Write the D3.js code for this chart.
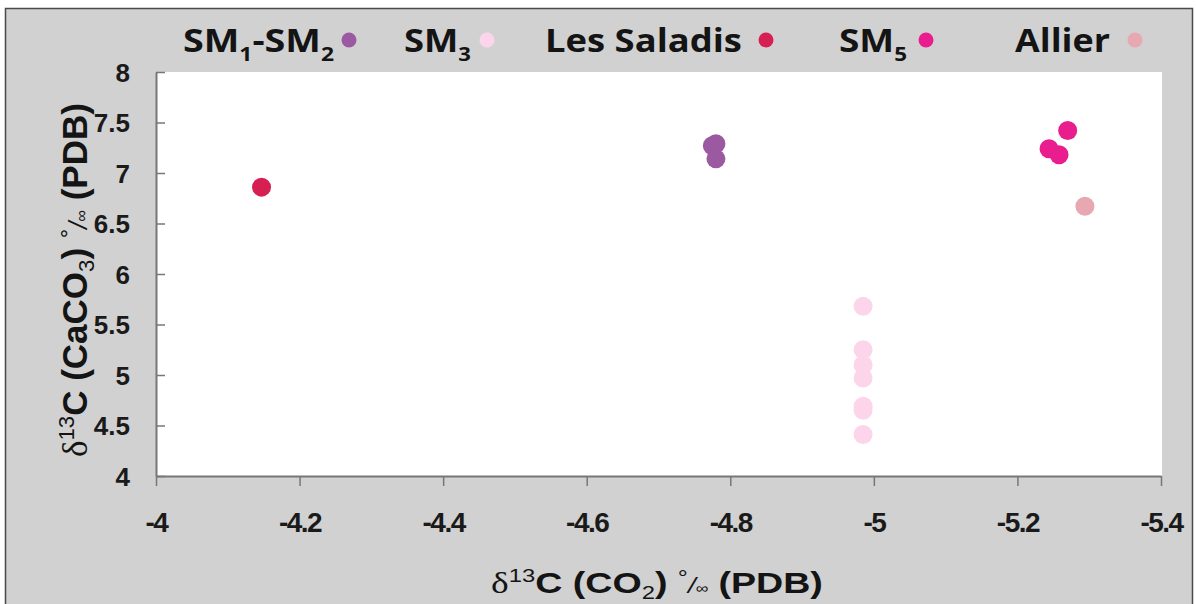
<!DOCTYPE html>
<html><head><meta charset="utf-8">
<script src="https://cdn.jsdelivr.net/npm/d3@7"></script>
<style>html,body{margin:0;padding:0;background:#fff;overflow:hidden}svg{display:block}</style>
</head><body>
<script>
// ---- data ----
const seriesNames = ["SM1-SM2", "SM3", "Les Saladis", "SM5", "Allier"];
const seriesColors = ["#9b59a1", "#fdd5ea", "#d61f53", "#ea1d8f", "#e8a8b2"];
const sm12X = [-4.78, -4.775, -4.78];
const sm12Y = [7.29, 7.27, 7.14];
const sm3X = [-4.985, -4.985, -4.985, -4.985, -4.985, -4.985, -4.985];
const sm3Y = [5.68, 5.25, 5.10, 4.97, 4.69, 4.65, 4.41];
const salX = [-4.147];
const salY = [6.86];
const sm5X = [-5.27, -5.244, -5.258];
const sm5Y = [7.42, 7.24, 7.18];
const allierX = [-5.294];
const allierY = [6.67];
const xTicks = [-4, -4.2, -4.4, -4.6, -4.8, -5, -5.2, -5.4];
const yTicks = [4, 4.5, 5, 5.5, 6, 6.5, 7, 7.5, 8];
// legend labels split into [text, role] parts (role: "" normal, "sub" subscript)
const legendParts = [
  [["SM", ""], ["1", "sub"], ["-SM", ""], ["2", "sub"]],
  [["SM", ""], ["3", "sub"]],
  [["Les Saladis", ""]],
  [["SM", ""], ["5", "sub"]],
  [["Allier", ""]]
];

const series = [
  {xs: sm12X, ys: sm12Y},
  {xs: sm3X, ys: sm3Y},
  {xs: salX, ys: salY},
  {xs: sm5X, ys: sm5Y},
  {xs: allierX, ys: allierY}
];

// ---- layout ----
const W = 1196, H = 604;
const plot = {l: 156, r: 1161, t: 72, b: 476};
const legendLayout = [
  {x0: 183, x1: 334, dot: 349},
  {x0: 404, x1: 471, dot: 487},
  {x0: 545, x1: 742, dot: 766},
  {x0: 839, x1: 907, dot: 926},
  {x0: 1015, x1: 1110, dot: 1135}
];

const svg = d3.select("body").append("svg").attr("width", W).attr("height", H);

svg.append("rect").attr("x", 0).attr("y", 0).attr("width", W).attr("height", H).attr("fill", "#fff");
svg.append("rect").attr("x", 5.5).attr("y", 8.5).attr("width", 1187).attr("height", 610)
  .attr("fill", "#d1d1d1").attr("stroke", "#4a4a4a").attr("stroke-width", 1.5);
svg.append("rect").attr("x", plot.l).attr("y", plot.t).attr("width", plot.r - plot.l + 1).attr("height", plot.b - plot.t)
  .attr("fill", "#fff");

const x = d3.scaleLinear().domain([-4, -5.4]).range([plot.l, plot.r]);
const y = d3.scaleLinear().domain([4, 8]).range([plot.b, plot.t]);

const AX = "#777";
const fmt = d => String(d);
// x axis
const gx = svg.append("g").attr("transform", `translate(0,${plot.b})`)
  .call(d3.axisBottom(x).tickValues(xTicks).tickSize(10).tickSizeOuter(0).tickFormat(fmt));
gx.select(".domain").attr("stroke", AX).attr("stroke-width", 2);
gx.selectAll(".tick line").attr("stroke", AX).attr("stroke-width", 1.5);
gx.selectAll(".tick text").attr("font-family", "'Liberation Sans', Arial, sans-serif")
  .attr("font-weight", "bold").attr("font-size", 28).attr("fill", "#1a1a1a")
  .attr("y", 56).attr("dy", 0).style("letter-spacing", "-1.5px");

// y axis (ticks inward)
const gy = svg.append("g").attr("transform", `translate(${plot.l},0)`)
  .call(d3.axisLeft(y).tickValues(yTicks).tickSize(-9).tickSizeOuter(0).tickPadding(26).tickFormat(fmt));
gy.select(".domain").attr("stroke", AX).attr("stroke-width", 2);
gy.selectAll(".tick line").attr("stroke", AX).attr("stroke-width", 1.5);
gy.selectAll(".tick text").attr("font-family", "'Liberation Sans', Arial, sans-serif")
  .attr("font-weight", "bold").attr("font-size", 26).attr("fill", "#1a1a1a").attr("dy", "0.36em");

// points
series.forEach((s, i) => {
  svg.append("g").selectAll("circle").data(s.xs.map((v, j) => [v, s.ys[j]])).join("circle")
    .attr("cx", d => x(d[0])).attr("cy", d => y(d[1])).attr("r", 9.5)
    .attr("fill", seriesColors[i]);
});

// legend
function fitX(t, x0, x1) {
  const bb = t.node().getBBox();
  const sx = (x1 - x0) / bb.width;
  t.attr("transform", `translate(${x0},0) scale(${sx},1) translate(${-bb.x},0)`);
}
legendParts.forEach((parts, i) => {
  const L = legendLayout[i];
  const t = svg.append("text").attr("x", 0).attr("y", 52)
    .attr("font-family", "'Open Sans', sans-serif").attr("font-weight", 700).attr("font-size", 33)
    .attr("fill", "#141414");
  let shifted = 0;
  parts.forEach(([txt, role]) => {
    const ts = t.append("tspan").text(txt);
    if (role === "sub") { ts.attr("font-size", 20).attr("dy", 9 - shifted); shifted = 9; }
    else { ts.attr("dy", -shifted); shifted = 0; }
  });
  fitX(t, L.x0, L.x1);
  svg.append("circle").attr("cx", L.dot).attr("cy", 40).attr("r", 7.5).attr("fill", seriesColors[i]);
});

// axis titles
function buildTitle(t, mid, fs) {
  const bold = "'Liberation Sans', Arial, sans-serif";
  const k = fs / 30;
  const add = (txt, o) => {
    const s = t.append("tspan").text(txt).attr("font-family", o.ff || bold)
      .attr("font-weight", o.w || "bold").attr("font-size", o.fs * k);
    if (o.dy) s.attr("dy", o.dy * k);
    if (o.it) s.attr("font-style", "italic");
    return s;
  };
  add("δ", {ff: "'Liberation Serif', 'DejaVu Serif', serif", w: "normal", fs: 30});
  add("13", {w: "normal", fs: 19, dy: -11});
  add("C (", {fs: 30, dy: 11});
  add(mid[0], {fs: 30});
  add(mid[1], {w: "normal", fs: 19, dy: 6});
  add(") ", {fs: 30, dy: -6});
  add("°", {w: "normal", fs: 20, dy: -8});
  add("/", {w: "normal", fs: 22, dy: 8, it: true});
  add("∞", {w: "normal", fs: 14});
  add(" (PDB)", {fs: 30});
}
// x title
const xt = svg.append("text").attr("x", 0).attr("y", 593).attr("fill", "#141414");
buildTitle(xt, ["CO", "2"], 30);
fitX(xt, 491, 823);

// y title (rotated)
const yg = svg.append("g").attr("transform", "translate(87,457) rotate(-90)");
const yt = yg.append("text").attr("x", 0).attr("y", 0).attr("fill", "#141414");
buildTitle(yt, ["CaCO", "3"], 36);
fitX(yt, 0, 354);
</script>
</body></html>
